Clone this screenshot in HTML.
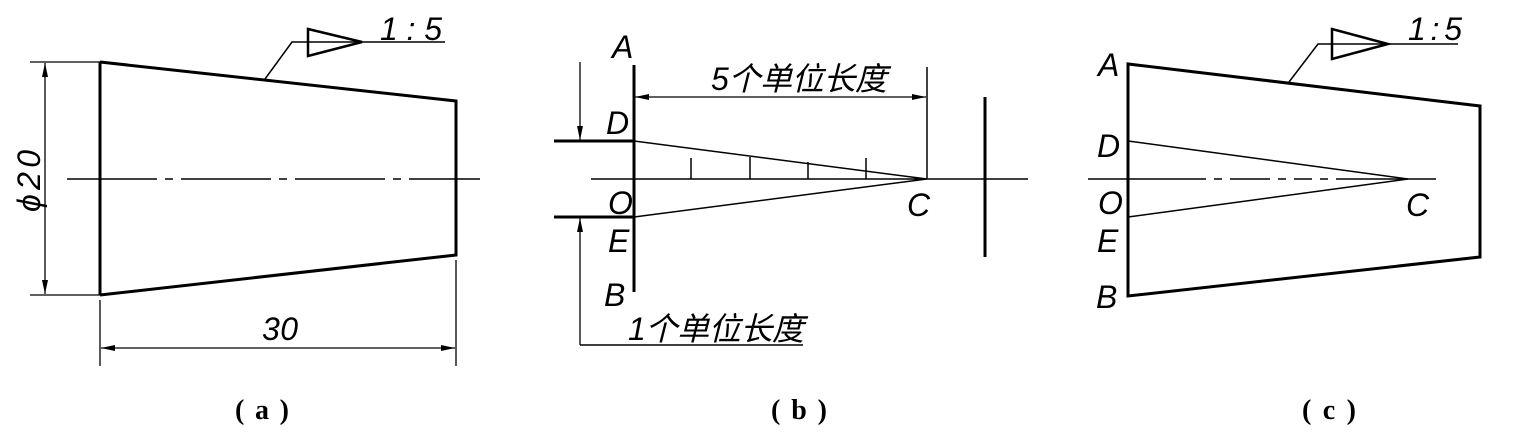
<!DOCTYPE html><html><head><style>body{margin:0;background:#fff}svg{display:block}text{font-family:"Liberation Sans","Noto Sans CJK SC",sans-serif;font-style:italic;fill:#000}</style></head><body>
<svg width="1536" height="440" viewBox="0 0 1536 440" xmlns="http://www.w3.org/2000/svg">
<defs><marker id="ar" markerWidth="14" markerHeight="8" refX="14" refY="4" orient="auto" markerUnits="userSpaceOnUse"><path d="M0,1 L14,4 L0,7 Z" fill="#000"/></marker></defs>
<g stroke="#000" fill="none">
<path d="M100,62 L100,295 M100,62 L456,101 L456,255 L100,295" stroke-width="3"/>
<path d="M67,179 H480" stroke-width="1.5" stroke-dasharray="90,8,8,8"/>
<path d="M30,62 H100 M30,295 H100 M100,300 V366 M456,260 V366" stroke-width="1.3"/>
<path d="M45,180 V63" stroke-width="1.3" marker-end="url(#ar)"/><path d="M45,180 V294" stroke-width="1.3" marker-end="url(#ar)"/>
<path d="M278,348 H101" stroke-width="1.3" marker-end="url(#ar)"/><path d="M278,348 H455" stroke-width="1.3" marker-end="url(#ar)"/>
<path d="M265,79 L292,42 H445" stroke-width="1.5"/><path d="M308,29 V56 L362,42 Z" stroke-width="2.5"/>
<path d="M634,65 V292 M985,97 V257 M554,141 H634 M554,217 H634" stroke-width="3"/>
<path d="M591,179 H1028 M634,141 L927,179 L634,217 M927,67 V179 M691,158 V179 M750,157 V179 M808,162 V179 M866,158 V179 M580,345 H803" stroke-width="1.5"/>
<path d="M780,97 H635" stroke-width="1.3" marker-end="url(#ar)"/><path d="M780,97 H926" stroke-width="1.3" marker-end="url(#ar)"/>
<path d="M580,62 V140" stroke-width="1.3" marker-end="url(#ar)"/><path d="M580,345 V218" stroke-width="1.3" marker-end="url(#ar)"/>
<path d="M1128,64 V296 L1480,257 V106 Z" stroke-width="3"/>
<path d="M1088,179 H1510" stroke-width="1.5" stroke-dasharray="118,8,8,8,40,8,8,8,18,8,8,8,100"/>
<path d="M1128,141 L1408,179 L1128,217" stroke-width="1.5"/>
<path d="M1289,82 L1318,44 H1458" stroke-width="1.5"/><path d="M1332,29 V59 L1388,44 Z" stroke-width="2.5"/>
</g>
<g font-size="32">
<text x="380" y="40" textLength="62" lengthAdjust="spacing">1:5</text>
<text x="1408" y="40" textLength="54" lengthAdjust="spacing">1:5</text>
<text x="612" y="58">A</text><text x="606" y="134">D</text><text x="608" y="214">O</text><text x="608" y="252">E</text><text x="604" y="306">B</text><text x="907" y="216">C</text>
<text x="1098" y="76">A</text><text x="1097" y="157">D</text><text x="1098" y="214">O</text><text x="1097" y="252">E</text><text x="1096" y="308">B</text><text x="1406" y="216">C</text>
<text x="711" y="90" textLength="176">5个单位长度</text><text x="628" y="340" textLength="176">1个单位长度</text>
<text x="262" y="340" textLength="36">30</text>
<text transform="translate(40,212) rotate(-90)" textLength="62">ϕ20</text>
</g>
<g font-size="28" font-weight="bold">
<text x="235" y="419" style="font-style:normal;font-family:'Liberation Serif',serif" textLength="54" lengthAdjust="spacing">(a)</text>
<text x="771" y="419" style="font-style:normal;font-family:'Liberation Serif',serif" textLength="56" lengthAdjust="spacing">(b)</text>
<text x="1302" y="419" style="font-style:normal;font-family:'Liberation Serif',serif" textLength="54" lengthAdjust="spacing">(c)</text>
</g>
</svg></body></html>
